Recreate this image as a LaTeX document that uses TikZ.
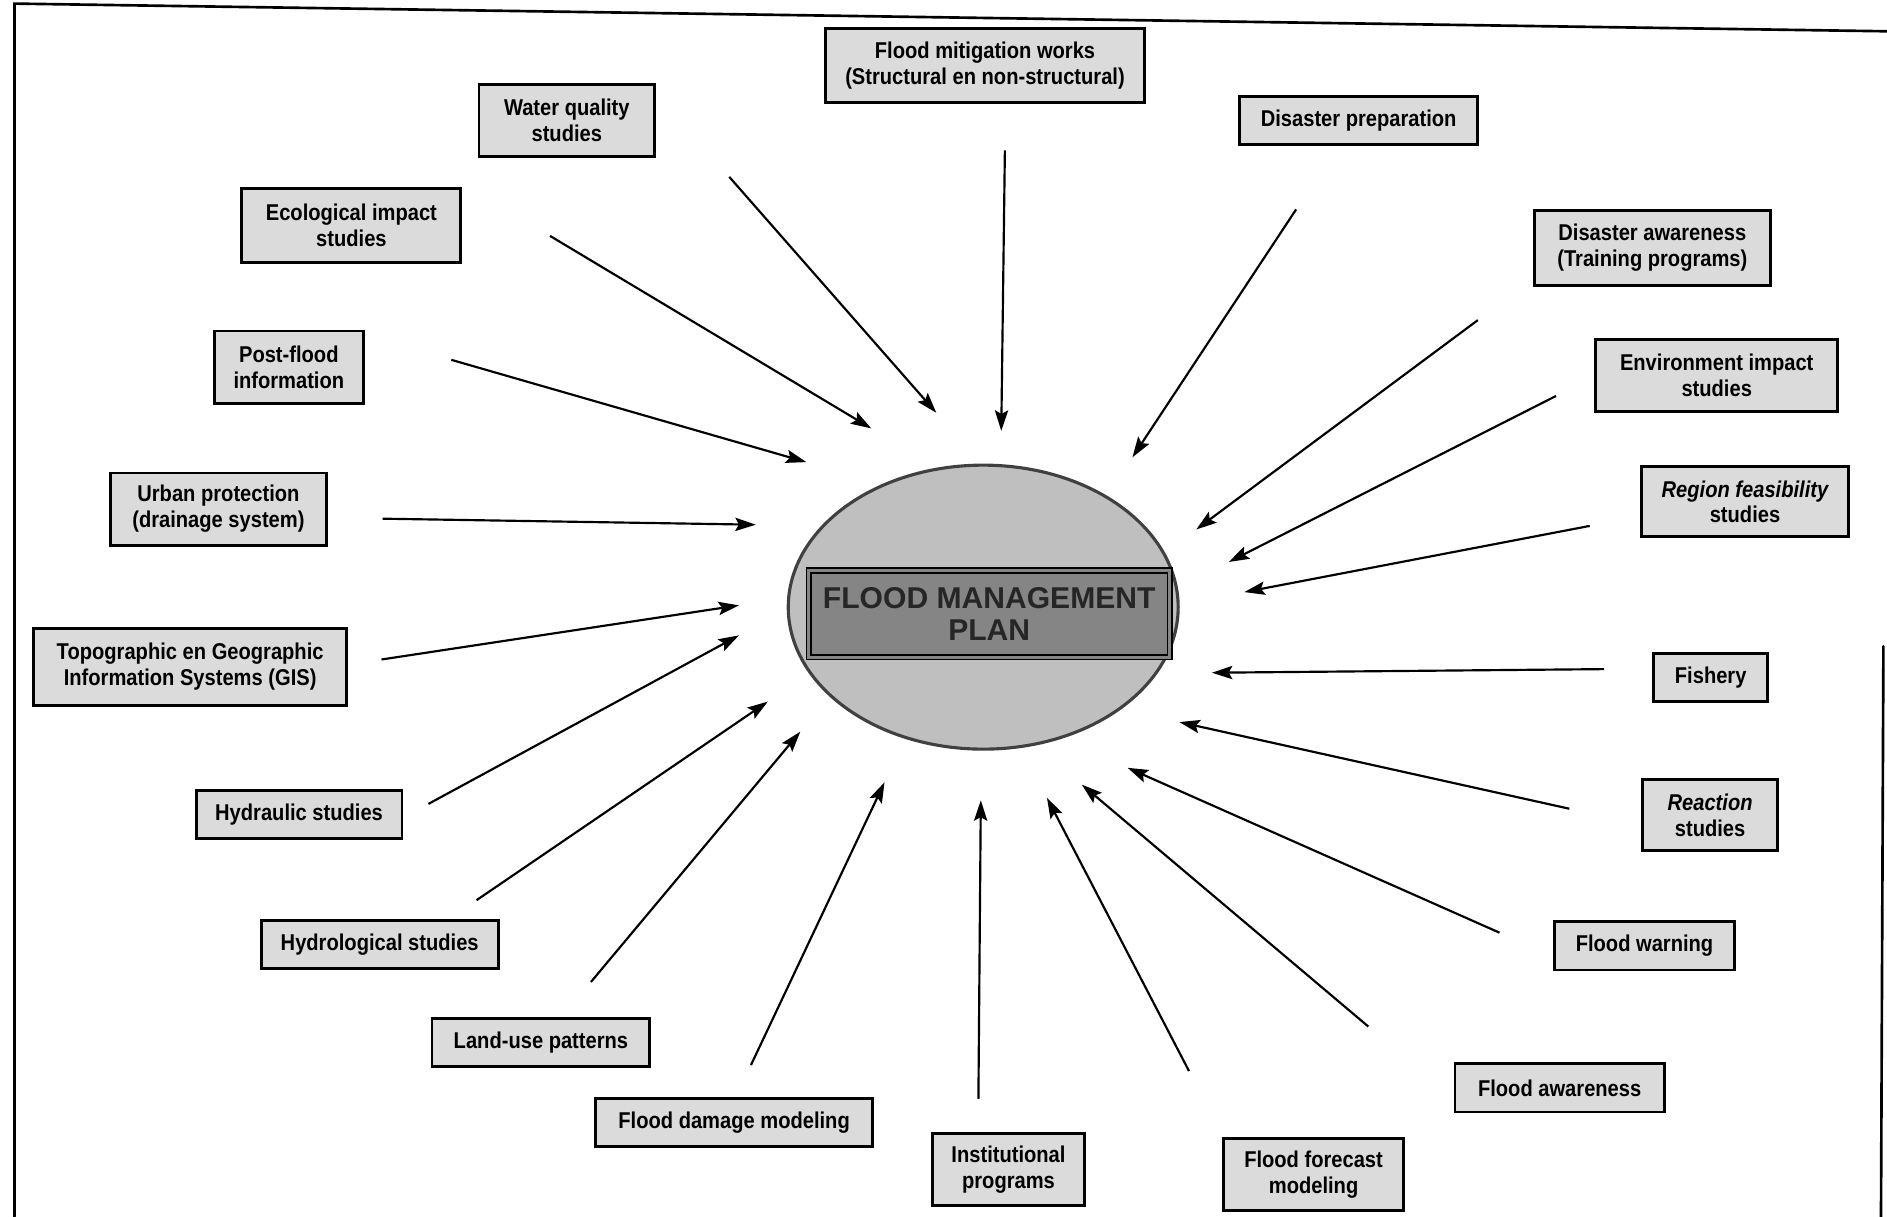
\documentclass[tikz,border=0pt]{standalone}
\usepackage{fontspec}
\newfontfamily\lab[FakeStretch=0.88]{Liberation Sans}
\newfontfamily\plainsans{Liberation Sans}
\usetikzlibrary{arrows.meta,shapes.geometric}
\tikzset{
  lbox/.style={draw, line width=2.4pt, fill=black!14, align=center, inner sep=0pt,
    font=\lab\bfseries\fontsize{19}{21.5}\selectfont},
  arr/.style={line width=1.8pt, -{Stealth[length=17pt,width=11pt,inset=3pt]}},
  frameline/.style={line width=2.2pt, line cap=round}
}
\begin{document}
\begin{tikzpicture}[x=1pt,y=-1pt]
\useasboundingbox (0,0) rectangle (1568,1011);
% frame
\draw[frameline] (1568,26) -- (12,3) -- (12,1011);
\draw[frameline] (1565,537) -- (1563,1011);

% centre
\node (plan) [ellipse, draw=black!75, line width=2.6pt, fill=black!25,
  minimum width=324pt, minimum height=236pt, inner sep=0pt] at (817,504.5) {};
\node (title) [draw=black, line width=1.4pt, double=black!48, double distance=2.5pt,
  fill=black!48, minimum width=300pt, minimum height=72pt, inner sep=0pt, align=center,
  font=\plainsans\bfseries\fontsize{25}{27}\selectfont, text=black!85] at (822,510)
  {FLOOD MANAGEMENT\\PLAN};

% boxes
\node (fmw) [lbox, minimum width=265pt, minimum height=61pt] at (818.5,54.5) {Flood mitigation works\\(Structural en non-structural)};
\node (wq) [lbox, minimum width=146pt, minimum height=60pt] at (471,100) {Water quality\\studies};
\node (dp) [lbox, minimum width=198pt, minimum height=40pt] at (1129,100) {Disaster preparation};
\node (eco) [lbox, minimum width=182pt, minimum height=61pt] at (292,187.5) {Ecological impact\\studies};
\node (da) [lbox, minimum width=196pt, minimum height=62pt] at (1373,206) {Disaster awareness\\(Training programs)};
\node (pf) [lbox, minimum width=124pt, minimum height=60pt] at (240,305) {Post-flood\\information};
\node (ei) [lbox, minimum width=201pt, minimum height=60pt] at (1426.5,312) {Environment impact\\studies};
\node (rf) [lbox, minimum width=172pt, minimum height=58pt] at (1450,417) {\itshape Region feasibility\\studies};
\node (up) [lbox, minimum width=179pt, minimum height=60pt] at (181.5,423) {Urban protection\\(drainage system)};
\node (topo) [lbox, minimum width=260pt, minimum height=64pt] at (158,554) {Topographic en Geographic\\Information Systems (GIS)};
\node (fish) [lbox, minimum width=95pt, minimum height=40pt] at (1421.5,563) {Fishery};
\node (reac) [lbox, minimum width=112pt, minimum height=59pt] at (1421,677.5) {\itshape Reaction\\studies};
\node (hydr) [lbox, minimum width=171pt, minimum height=40pt] at (248.5,677) {Hydraulic studies};
\node (hydro) [lbox, minimum width=197pt, minimum height=40pt] at (315.5,785) {Hydrological studies};
\node (fw) [lbox, minimum width=149pt, minimum height=40pt] at (1366.5,786) {Flood warning};
\node (lu) [lbox, minimum width=181pt, minimum height=40pt] at (449.5,866) {Land-use patterns};
\node (fdm) [lbox, minimum width=230pt, minimum height=40pt] at (610,933) {Flood damage modeling};
\node (fa) [lbox, minimum width=174pt, minimum height=40pt] at (1296,904) {Flood awareness};
\node (inst) [lbox, minimum width=126pt, minimum height=60pt] at (838,972) {Institutional\\programs};
\node (ff) [lbox, minimum width=149pt, minimum height=60pt] at (1091.5,976) {Flood forecast\\modeling};

% arrow end points
\coordinate (s1) at (835,125);   \coordinate (e1) at (832,358);
\coordinate (s2) at (606,147);   \coordinate (e2) at (778,343);
\coordinate (s3) at (1077,174);  \coordinate (e3) at (941,380);
\coordinate (s4) at (457,196);   \coordinate (e4) at (724,356);
\coordinate (s5) at (1228,266);  \coordinate (e5) at (994,440);
\coordinate (s6) at (375,299);   \coordinate (e6) at (670,384);
\coordinate (s7) at (1293,329);  \coordinate (e7) at (1021,467);
\coordinate (s8) at (1321,437);  \coordinate (e8) at (1034,492);
\coordinate (s9) at (318,431);   \coordinate (e9) at (628,436);
\coordinate (s10) at (317,548);  \coordinate (e10) at (614,503);
\coordinate (s11) at (1333,556); \coordinate (e11) at (1007,559);
\coordinate (s12) at (356,668);  \coordinate (e12) at (614,528);
\coordinate (s13) at (1304,672); \coordinate (e13) at (980,600);
\coordinate (s14) at (396,748);  \coordinate (e14) at (638,583);
\coordinate (s15) at (1246,775); \coordinate (e15) at (937,638);
\coordinate (s16) at (491,816);  \coordinate (e16) at (665,608);
\coordinate (s17) at (1137,853); \coordinate (e17) at (899,652);
\coordinate (s18) at (624,885);  \coordinate (e18) at (735,650);
\coordinate (s19) at (813,913);  \coordinate (e19) at (815,665);
\coordinate (s20) at (988,890);  \coordinate (e20) at (870,663);

\foreach \i in {1,...,20} { \draw[arr] (s\i) -- (e\i); }
\end{tikzpicture}
\end{document}
